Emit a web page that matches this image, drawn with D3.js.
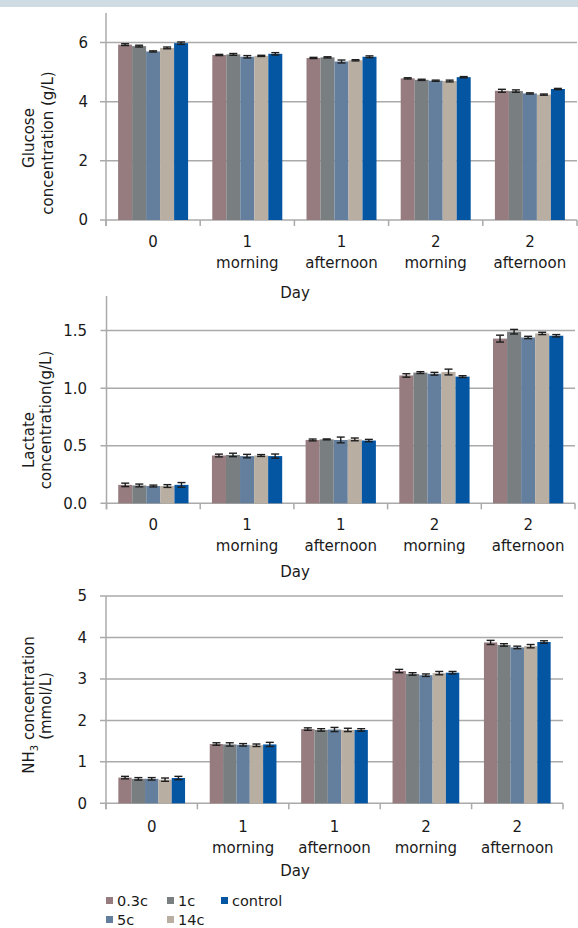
<!DOCTYPE html>
<html>
<head>
<meta charset="utf-8">
<script src="https://cdn.jsdelivr.net/npm/d3@7"></script>
<style>
  html, body { margin: 0; padding: 0; background: #ffffff; }
  svg { display: block; }
  text { font-family: "DejaVu Sans", sans-serif; fill: #1a1a1a; }
</style>
</head>
<body>
<svg id="chart" width="578" height="928"></svg>
<script>
// Sampling points (day / time of day) and treatment groups
const categories = [["0"], ["1", "morning"], ["1", "afternoon"], ["2", "morning"], ["2", "afternoon"]];
const seriesNames = ["0.3c", "1c", "5c", "14c", "control"];
const seriesColors = ["#967b7f", "#797e81", "#647f9d", "#b8aea2", "#0455a2"];
const legendOrder = ["0.3c", "5c", "1c", "14c", "control"];

// Glucose (g/L): one row per treatment, one value per sampling point
const glucoseMean = [
  [5.93, 5.58, 5.48, 4.79, 4.37],
  [5.88, 5.60, 5.50, 4.74, 4.36],
  [5.70, 5.52, 5.36, 4.71, 4.28],
  [5.82, 5.55, 5.40, 4.70, 4.24],
  [5.98, 5.62, 5.52, 4.83, 4.43]
];
const glucoseErr = [
  [0.03, 0.02, 0.02, 0.02, 0.05],
  [0.03, 0.03, 0.02, 0.02, 0.04],
  [0.02, 0.04, 0.05, 0.02, 0.02],
  [0.03, 0.02, 0.02, 0.03, 0.02],
  [0.04, 0.04, 0.03, 0.02, 0.02]
];

// Lactate (g/L)
const lactateMean = [
  [0.160, 0.415, 0.550, 1.110, 1.430],
  [0.155, 0.420, 0.555, 1.135, 1.490],
  [0.150, 0.410, 0.550, 1.125, 1.440],
  [0.150, 0.415, 0.555, 1.140, 1.475],
  [0.160, 0.410, 0.545, 1.100, 1.455]
];
const lactateErr = [
  [0.015, 0.012, 0.008, 0.015, 0.030],
  [0.012, 0.015, 0.004, 0.008, 0.020],
  [0.008, 0.015, 0.025, 0.012, 0.010],
  [0.012, 0.008, 0.012, 0.025, 0.010],
  [0.020, 0.018, 0.010, 0.008, 0.010]
];

// NH3 (mmol/L)
const ammoniaMean = [
  [0.62, 1.43, 1.79, 3.19, 3.88],
  [0.59, 1.42, 1.77, 3.12, 3.82],
  [0.59, 1.41, 1.78, 3.09, 3.76],
  [0.57, 1.40, 1.77, 3.14, 3.79],
  [0.61, 1.42, 1.77, 3.15, 3.89]
];
const ammoniaErr = [
  [0.03, 0.03, 0.03, 0.04, 0.05],
  [0.03, 0.04, 0.03, 0.03, 0.03],
  [0.03, 0.03, 0.05, 0.03, 0.03],
  [0.04, 0.03, 0.04, 0.04, 0.04],
  [0.04, 0.05, 0.03, 0.03, 0.03]
];

// Axis ticks
const glucoseTicks = [0, 2, 4, 6];
const lactateTicks = [0, 0.5, 1.0, 1.5];
const ammoniaTicks = [0, 1, 2, 3, 4, 5];

const svg = d3.select("#chart");
const gridColor = "#aaaaaa";

// thin banner across the top
svg.append("rect").attr("x", 0).attr("y", 0).attr("width", 578).attr("height", 7).attr("fill", "#d0dce4");

const panels = [
  {
    mean: glucoseMean, err: glucoseErr, ticks: glucoseTicks, max: 7, fmt: d3.format("d"),
    top: 13, bottom: 220, left: 106, right: 577, pad: 0.257,
    tickLabelX: 88, catY: 246.5, dayY: 298,
    titles: [{ text: "Glucose", x: 34, y: 138 }, { text: "concentration (g/L)", x: 53, y: 143 }]
  },
  {
    mean: lactateMean, err: lactateErr, ticks: lactateTicks, max: 1.8, fmt: d3.format(".1f"),
    top: 296, bottom: 503.3, left: 106.5, right: 575, pad: 0.25,
    tickLabelX: 87, catY: 530, dayY: 577,
    titles: [{ text: "Lactate", x: 34, y: 440 }, { text: "concentration(g/L)", x: 51, y: 420 }]
  },
  {
    mean: ammoniaMean, err: ammoniaErr, ticks: ammoniaTicks, max: 5, fmt: d3.format("d"),
    top: 596, bottom: 803.3, left: 106, right: 563, pad: 0.27,
    tickLabelX: 87, catY: 832, dayY: 876,
    titles: [{ nh3: true, x: 34, y: 705 }, { text: "(mmol/L)", x: 51, y: 706 }]
  }
];

panels.forEach(p => {
  const g = svg.append("g");
  const y = d3.scaleLinear().domain([0, p.max]).range([p.bottom, p.top]);
  const x0 = d3.scaleBand().domain(d3.range(categories.length))
    .range([p.left, p.right]).paddingInner(p.pad).paddingOuter(p.pad / 2);
  const x1 = d3.scaleBand().domain(d3.range(seriesNames.length)).range([0, x0.bandwidth()]);

  // horizontal gridlines + y axis ticks
  g.selectAll("line.grid").data(p.ticks).join("line")
    .attr("x1", p.left - 6).attr("x2", p.right)
    .attr("y1", d => y(d)).attr("y2", d => y(d))
    .attr("stroke", gridColor).attr("stroke-width", 1.5);

  g.selectAll("text.ytick").data(p.ticks).join("text")
    .attr("x", p.tickLabelX).attr("y", d => y(d)).attr("dy", "0.36em")
    .attr("text-anchor", "end").attr("font-size", 15)
    .text(d => p.fmt(d));

  // category boundary ticks below the baseline
  const step = x0.step();
  const bounds = d3.range(categories.length + 1).map(i => p.left + i * step);
  g.selectAll("line.xtick").data(bounds).join("line")
    .attr("x1", d => d).attr("x2", d => d)
    .attr("y1", p.bottom).attr("y2", p.bottom + 6)
    .attr("stroke", gridColor).attr("stroke-width", 1.5);

  // bars
  seriesNames.forEach((s, si) => {
    g.append("g").selectAll("rect").data(p.mean[si]).join("rect")
      .attr("x", (d, ci) => x0(ci) + x1(si))
      .attr("width", x1.bandwidth())
      .attr("y", d => y(d))
      .attr("height", d => p.bottom - y(d))
      .attr("fill", seriesColors[si]);
  });

  // error bars
  seriesNames.forEach((s, si) => {
    const eg = g.append("g").attr("stroke", "#1e1e1e").attr("stroke-width", 1.4);
    p.mean[si].forEach((m, ci) => {
      const e = p.err[si][ci];
      const cx = x0(ci) + x1(si) + x1.bandwidth() / 2;
      const hw = 4;
      eg.append("line").attr("x1", cx).attr("x2", cx).attr("y1", y(m - e)).attr("y2", y(m + e));
      eg.append("line").attr("x1", cx - hw).attr("x2", cx + hw).attr("y1", y(m - e)).attr("y2", y(m - e));
      eg.append("line").attr("x1", cx - hw).attr("x2", cx + hw).attr("y1", y(m + e)).attr("y2", y(m + e));
    });
  });

  // y axis line
  g.append("line").attr("x1", p.left).attr("x2", p.left)
    .attr("y1", p.top).attr("y2", p.bottom + 6)
    .attr("stroke", gridColor).attr("stroke-width", 1.5);

  // category labels
  categories.forEach((lines, ci) => {
    const cx = x0(ci) + x0.bandwidth() / 2;
    lines.forEach((t, li) => {
      g.append("text").attr("x", cx).attr("y", p.catY + li * 21)
        .attr("text-anchor", "middle").attr("font-size", 15).text(t);
    });
  });

  // x axis title
  g.append("text").attr("x", 295).attr("y", p.dayY)
    .attr("text-anchor", "middle").attr("font-size", 15).text("Day");

  // y axis title (two lines, rotated)
  p.titles.forEach(t => {
    const tx = g.append("text")
      .attr("transform", `translate(${t.x},${t.y}) rotate(-90)`)
      .attr("text-anchor", "middle").attr("font-size", 15);
    if (t.nh3) {
      tx.append("tspan").text("NH");
      tx.append("tspan").attr("font-size", 10).attr("dy", 4).text("3");
      tx.append("tspan").attr("dy", -4).text(" concentration");
    } else {
      tx.text(t.text);
    }
  });
});

// legend
const legendCols = [106, 167, 221];
const legendRows = [897, 916];
legendOrder.forEach((name, i) => {
  const si = seriesNames.indexOf(name);
  const col = Math.floor(i / 2), row = i % 2;
  const lx = legendCols[col], ly = legendRows[row];
  svg.append("rect").attr("x", lx).attr("y", ly).attr("width", 7).attr("height", 7)
    .attr("fill", seriesColors[si]);
  svg.append("text").attr("x", lx + 11).attr("y", ly + 8.5)
    .attr("font-size", 14.5).text(name);
});
</script>
</body>
</html>
